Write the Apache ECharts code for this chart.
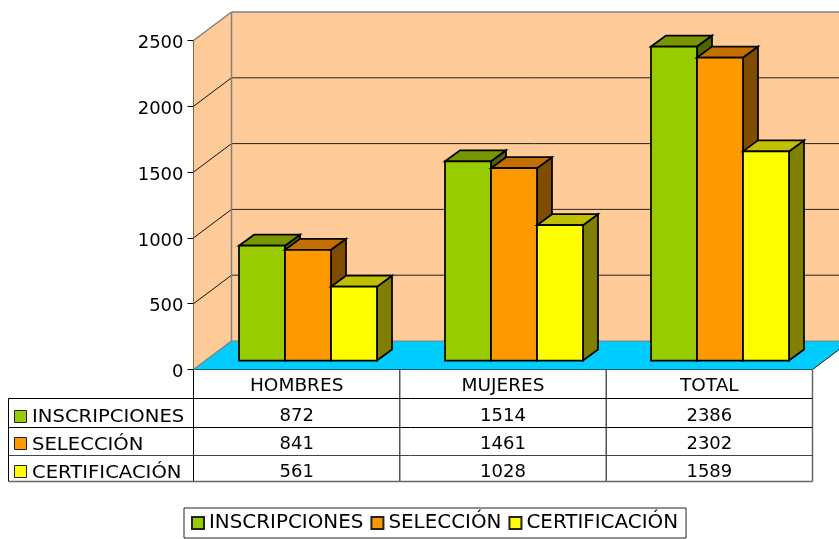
<!DOCTYPE html>
<html><head><meta charset="utf-8">
<style>html,body{margin:0;padding:0;background:#fff}#c{width:839px;height:539px}</style>
<script src="https://cdn.jsdelivr.net/npm/echarts@6/dist/echarts.min.js"></script>
</head><body><div id="c"></div>
<script>
const categories = ['HOMBRES', 'MUJERES', 'TOTAL'];
const seriesNames = ['INSCRIPCIONES', 'SELECCIÓN', 'CERTIFICACIÓN'];
const inscripciones = [872, 1514, 2386];
const seleccion = [841, 1461, 2302];
const certificacion = [561, 1028, 1589];
const yTicks = [500, 1000, 1500, 2000, 2500];
const seriesValues = [inscripciones, seleccion, certificacion];
const faceColors = ['#99cc00', '#ff9900', '#ffff00'];
const topColors = ['#789600', '#c47000', '#c0c000'];
const sideColors = ['#4d6600', '#804d00', '#808000'];

const FONT = '"DejaVu Sans"', FS = 18;
const WALL = {x: 38, y: -28.5};
const BASE = {x: 11, y: -9};
const DEPTH = {x: 15, y: -11};
const BAR_RATIO = 46 / 206;
const rowLines = [398.5, 427.5, 455.5, 481.5];
const rowCenters = [417, 445.5, 473];
const markerTops = [410.5, 437.5, 465.5];
const tableLeft = 8.5;
const NAME_STRETCH = 1.09;

function poly(points, fill, stroke, lw) {
  return {type: 'polygon', shape: {points}, style: {fill, stroke: stroke || 'none', lineWidth: lw || 0}};
}
function line(x1, y1, x2, y2, stroke, lw) {
  return {type: 'line', shape: {x1, y1, x2, y2}, style: {stroke, lineWidth: lw || 1}};
}

function renderWalls(params, api) {
  const c = params.coordSys;
  const L = c.x, R = c.x + c.width, B = api.coord([0, 0])[1], T = api.coord([0, 2500])[1];
  const w = WALL;
  const ch = [
    poly([[L + w.x, T + w.y], [R + w.x, T + w.y], [R + w.x, B + w.y], [L + w.x, B + w.y]], '#ffcc99'),
    poly([[L, T], [L + w.x, T + w.y], [L + w.x, B + w.y], [L, B]], '#ffcc99'),
    poly([[L, B], [L + w.x, B + w.y], [R + w.x, B + w.y], [R, B]], '#00ccff')
  ];
  yTicks.slice(0, -1).forEach(v => {
    const y = api.coord([0, v])[1];
    ch.push(line(L, y, L + w.x, y + w.y, '#111', 1));
    ch.push(line(L + w.x, y + w.y, R + w.x, y + w.y, '#222', 1));
  });
  ch.push(line(L, T, L + w.x, T + w.y, '#808080', 1.5));
  ch.push(line(L + w.x, T + w.y, R + w.x, T + w.y, '#808080', 1.5));
  ch.push(line(L + w.x, T + w.y, L + w.x, B + w.y, '#808080', 1.5));
  ch.push(line(L, B, L + w.x, B + w.y, '#808080', 1.5));
  ch.push(line(L + w.x, B + w.y, R + w.x, B + w.y, '#808080', 1));
  ch.push(line(R, B, R + w.x, B + w.y, '#222', 1));
  return {type: 'group', children: ch};
}

function barRenderer(si) {
  return function (params, api) {
    const p = api.coord([api.value(0), api.value(1)]);
    const p0 = api.coord([api.value(0), 0]);
    const bw = api.size([1, 0])[0] * BAR_RATIO;
    const x0 = Math.round(p[0] + BASE.x + (si - 1.5) * bw), x1 = Math.round(p[0] + BASE.x + (si - 0.5) * bw);
    const yT = p[1] + BASE.y, yB = p0[1] + BASE.y;
    const d = DEPTH, S = '#000', W = 1.75;
    return {type: 'group', children: [
      poly([[x1, yT], [x1 + d.x, yT + d.y], [x1 + d.x, yB + d.y], [x1, yB]], sideColors[si], S, W),
      poly([[x0, yT], [x0 + d.x, yT + d.y], [x1 + d.x, yT + d.y], [x1, yT]], topColors[si], S, W),
      poly([[x0, yT], [x1, yT], [x1, yB], [x0, yB]], faceColors[si], S, W)
    ]};
  };
}

function renderTable(params, api) {
  const c = params.coordSys;
  const L = c.x, R = c.x + c.width, B = api.coord([0, 0])[1];
  const ch = [];
  const colW = c.width / categories.length;
  for (let i = 1; i <= categories.length; i++) {
    const x = L + colW * i;
    ch.push(line(x, B, x, rowLines[3], i === categories.length ? '#666' : '#000', i === categories.length ? 1.5 : 1));
  }
  ch.push(line(L, B, L, rowLines[3], '#000', 1));
  ch.push(line(tableLeft, rowLines[0], tableLeft, rowLines[3], '#000', 1));
  ch.push(line(tableLeft, rowLines[0], R, rowLines[0], '#000', 1));
  ch.push(line(tableLeft, rowLines[1], R, rowLines[1], '#000', 1));
  ch.push(line(tableLeft, rowLines[2], R, rowLines[2], '#444', 1));
  ch.push(line(tableLeft, rowLines[3], R, rowLines[3], '#666', 1.5));
  seriesNames.forEach((name, r) => {
    ch.push({type: 'rect', shape: {x: 14.5, y: markerTops[r], width: 12, height: 12},
      style: {fill: faceColors[r], stroke: '#222', lineWidth: 1}});
    ch.push({type: 'text', x: 32, y: rowCenters[r], scaleX: NAME_STRETCH,
      style: {x: 0, y: 0, text: name, font: FS + 'px ' + FONT, fill: '#000', textAlign: 'left', textVerticalAlign: 'middle'}});
    seriesValues[r].forEach((v, i) => {
      ch.push({type: 'text', style: {x: L + colW * (i + 0.5), y: rowCenters[r] - 1, text: String(v), font: FS + 'px ' + FONT, fill: '#000', textAlign: 'center', textVerticalAlign: 'middle'}});
    });
  });
  return {type: 'group', children: ch};
}

const chart = echarts.init(document.getElementById('c'), null, {renderer: 'canvas'});
chart.setOption({
  animation: false,
  backgroundColor: '#fff',
  grid: {left: 193.5, right: 26.5, top: 40.5, bottom: 169.5, containLabel: false},
  xAxis: {
    type: 'category', data: categories,
    axisLine: {show: true, lineStyle: {color: '#000', width: 1}},
    axisTick: {show: false},
    axisLabel: {color: '#000', fontFamily: FONT, fontSize: 18.5, margin: 7.5},
    splitLine: {show: false}
  },
  yAxis: {
    type: 'value', min: 0, max: 2500, interval: 500,
    axisLine: {show: true, lineStyle: {color: '#000', width: 1}},
    axisTick: {show: true, length: 6, lineStyle: {color: '#000'}},
    axisLabel: {color: '#000', fontFamily: FONT, fontSize: FS, margin: 10, verticalAlign: 'top', lineHeight: 6, formatter: v => String(v)},
    splitLine: {show: false}
  },
  legend: {
    show: true, left: 184, top: 508, orient: 'horizontal',
    padding: [5, 8, 5, 7], itemGap: 7, itemWidth: 12, itemHeight: 12,
    borderColor: '#222', borderWidth: 1, backgroundColor: '#fff', icon: 'rect',
    textStyle: {color: '#000', fontFamily: FONT, fontSize: 19.9},
    data: seriesNames, selectedMode: false
  },
  tooltip: {show: false},
  series: [
    {type: 'custom', name: 'walls', silent: true, z: 1, clip: false, data: [[0, 0]], renderItem: renderWalls},
    ...seriesNames.map((name, si) => ({
      type: 'custom', name, z: 2, clip: false, silent: true,
      itemStyle: {color: faceColors[si], borderColor: '#222', borderWidth: 1},
      encode: {x: 0, y: 1},
      data: seriesValues[si].map((v, i) => [i, v]),
      renderItem: barRenderer(si)
    })),
    {type: 'custom', name: 'table', silent: true, z: 3, clip: false, data: [[0, 0]], renderItem: renderTable}
  ]
});
</script></body></html>
